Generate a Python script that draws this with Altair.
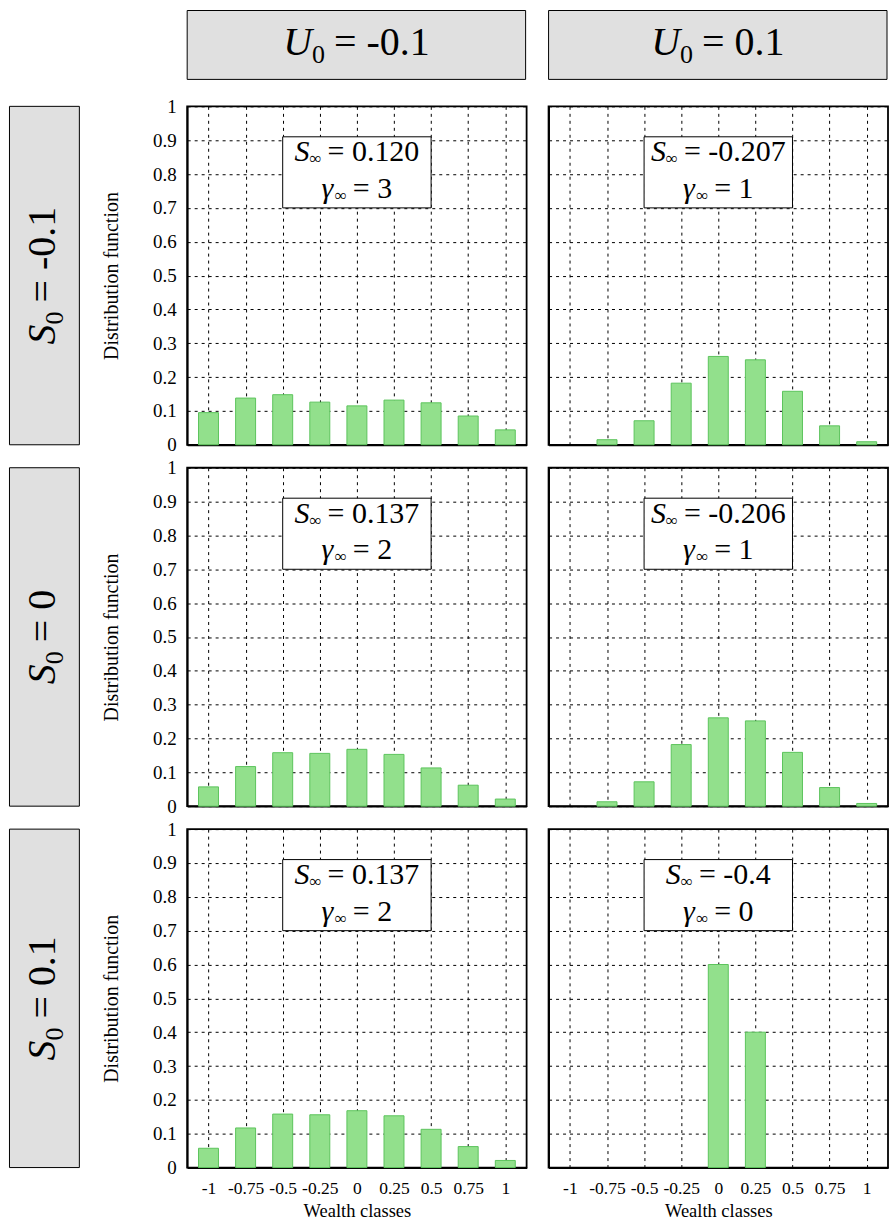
import altair as alt
import pandas as pd

# ---------------- data ----------------
classes = [-1, -0.75, -0.5, -0.25, 0, 0.25, 0.5, 0.75, 1]
y_ticks = [0, 0.1, 0.2, 0.3, 0.4, 0.5, 0.6, 0.7, 0.8, 0.9, 1]

u0_labels = ["-0.1", "0.1"]
s0_labels = ["-0.1", "0", "0.1"]

dist_u_neg_s_neg = [0.095, 0.138, 0.148, 0.126, 0.115, 0.132, 0.124, 0.085, 0.044]
dist_u_neg_s_zero = [0.057, 0.117, 0.158, 0.156, 0.168, 0.153, 0.113, 0.062, 0.021]
dist_u_neg_s_pos = [0.057, 0.117, 0.158, 0.156, 0.168, 0.153, 0.113, 0.062, 0.021]
dist_u_pos_s_neg = [0, 0.015, 0.071, 0.182, 0.261, 0.251, 0.158, 0.056, 0.009]
dist_u_pos_s_zero = [0, 0.013, 0.072, 0.182, 0.261, 0.252, 0.159, 0.055, 0.008]
dist_u_pos_s_pos = [0, 0, 0, 0, 0.6, 0.4, 0, 0, 0]

s_inf = [["0.120", "-0.207"], ["0.137", "-0.206"], ["0.137", "-0.4"]]
gamma_inf = [["3", "1"], ["2", "1"], ["2", "0"]]

series = [
    [dist_u_neg_s_neg, dist_u_pos_s_neg],
    [dist_u_neg_s_zero, dist_u_pos_s_zero],
    [dist_u_neg_s_pos, dist_u_pos_s_pos],
]

# ---------------- styling ----------------
SERIF = "Liberation Serif"
BAR_FILL = "#92e08c"
BAR_STROKE = "#5cc45c"
HEADER_FILL = "#e0e0e0"
PW, PH = 340, 339

xs = alt.Scale(domain=[-1.11, 1.11], nice=False, zero=False)
ys = alt.Scale(domain=[0, 1], nice=False)

# approximate Times advance widths (em)
ADV = {str(d): 0.5 for d in range(10)}
ADV.update({".": 0.25, "-": 0.333, "=": 0.564, "S": 0.5, "U": 0.722,
            "γ": 0.44, "∞": 0.713})


def layout_rich(pieces):
    """pieces: (text, size, italic, dy, gap_before) -> centred list with dx."""
    widths = [sum(ADV.get(ch, 0.5) for ch in t) * s + g for t, s, _, _, g in pieces]
    total = sum(widths)
    out, cur = [], -total / 2
    for (t, s, it, dy, g), w in zip(pieces, widths):
        out.append((t, s, it, cur + g, dy))
        cur += w
    return out


def rich_marks(data, pieces, enc, angle=None):
    marks = []
    for t, s, it, dx, dy in layout_rich(pieces):
        kw = dict(text=t, font=SERIF, fontSize=s, fontStyle="italic" if it else "normal",
                  align="left", baseline="alphabetic", dx=dx, dy=dy, color="black")
        if angle is not None:
            kw["angle"] = angle
        marks.append(alt.Chart(data).mark_text(**kw).encode(**enc))
    return marks


def big_label(letter, value):
    return [(letter, 40, True, 0, 0), ("0", 26, False, 8, 0),
            ("=", 40, False, 0, 9), (value, 40, False, 0, 10)]


def small_label(letter, value):
    return [(letter, 30, True, 0, 0), ("∞", 17, False, 3, 0),
            ("=", 30, False, 0, 6), (value, 30, False, 0, 7.5)]


one = pd.DataFrame({"bx0": [-0.5], "bx1": [0.5], "by0": [0.70], "by1": [0.91],
                    "cx": [0.0], "l1": [0.838], "l2": [0.730]})


def header(label):
    rect = alt.Chart(one).mark_rect(fill=HEADER_FILL, stroke="black", strokeWidth=1).encode(
        x=alt.value(0), x2=alt.value(339), y=alt.value(0), y2=alt.value(69))
    txt = rich_marks(one, big_label("U", label), dict(x=alt.value(169.5), y=alt.value(45)))
    return alt.layer(rect, *txt).properties(
        width=PW, height=73, view=alt.ViewBackground(stroke="transparent"))


def panel(values, r, c):
    df = pd.DataFrame({"cls": classes, "val": values})
    last = r == 2
    first = c == 0
    xaxis = alt.Axis(values=classes, labelExpr="'' + datum.value", labels=last,
                     title="Wealth classes" if last else None, grid=True)
    yaxis = alt.Axis(values=y_ticks, labelExpr="'' + datum.value", labels=first,
                     title="Distribution function" if first else None, grid=True)
    bars = alt.Chart(df).transform_filter("datum.val > 0").mark_bar(
        size=20, fill=BAR_FILL, stroke=BAR_STROKE, strokeWidth=1).encode(
        x=alt.X("cls:Q", scale=xs, axis=xaxis),
        y=alt.Y("val:Q", scale=ys, axis=yaxis))
    box = alt.Chart(one).mark_rect(fill="white", stroke="black", strokeWidth=1).encode(
        x=alt.X("bx0:Q", scale=xs, axis=None), x2="bx1:Q",
        y=alt.Y("by0:Q", scale=ys, axis=None), y2="by1:Q")
    xenc = alt.X("cx:Q", scale=xs, axis=None)
    line1 = rich_marks(one, small_label("S", s_inf[r][c]),
                       dict(x=xenc, y=alt.Y("l1:Q", scale=ys, axis=None)))
    line2 = rich_marks(one, small_label("γ", gamma_inf[r][c]),
                       dict(x=xenc, y=alt.Y("l2:Q", scale=ys, axis=None)))
    layers = [bars, box] + line1 + line2
    if first:
        rh = alt.Chart(one).mark_rect(fill=HEADER_FILL, stroke="black", strokeWidth=1).encode(
            x=alt.value(-178), x2=alt.value(-108), y=alt.value(0), y2=alt.value(PH))
        rtxt = rich_marks(one, big_label("S", s0_labels[r]),
                          dict(x=alt.value(-132.5), y=alt.value(PH / 2)), angle=270)
        layers = layers + [rh] + rtxt
    return alt.layer(*layers).resolve_axis(x="independent", y="independent").properties(
        width=PW, height=PH)


cells = [header(u0_labels[0]), header(u0_labels[1])]
for r in range(3):
    for c in range(2):
        cells.append(panel(series[r][c], r, c))

chart = alt.concat(*cells, columns=2, spacing={"row": 23, "column": 22}, bounds="flush").properties(
    padding={"left": 7.5, "top": 7.5, "right": 0, "bottom": 0}
).configure_view(stroke="black", strokeWidth=1.8).configure_axis(
    domainColor="black", domainWidth=1.8, ticks=False, tickSize=0,
    gridColor="black", gridDash=[3, 4], gridWidth=1, gridOpacity=1,
    labelFont=SERIF, labelColor="black",
    titleFont=SERIF, titleFontWeight="normal", titleColor="black",
).configure_axisY(titlePadding=31, labelPadding=11, labelFontSize=19, titleFontSize=20).configure_axisX(
    titlePadding=5, labelPadding=12, labelFontSize=17.5, titleFontSize=18.5)

chart.save("out.html", embed_options={"renderer": "svg", "actions": False})
